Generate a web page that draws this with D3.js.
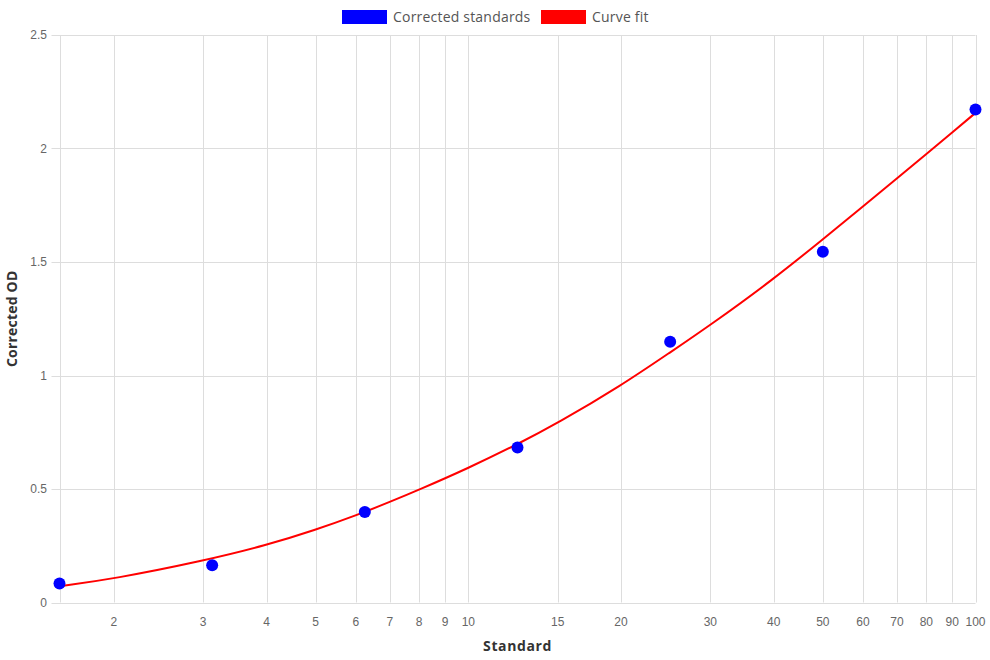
<!DOCTYPE html>
<html><head><meta charset="utf-8">
<script src="https://cdn.jsdelivr.net/npm/d3@7"></script>
<style>
body{margin:0;background:#fff;}
svg{display:block;}
</style></head>
<body><svg id="chart" width="990" height="660"></svg>
<script>
const standardX = [1.5625, 3.125, 6.25, 12.5, 25, 50, 100];
const correctedOD = [0.084, 0.164, 0.399, 0.683, 1.149, 1.545, 2.172];
const fitX = [1.5625, 2, 3, 4, 5, 6, 7, 8, 10, 12.5, 15, 20, 25, 30, 40, 50, 60, 70, 80, 90, 100];
const fitY = [0.072, 0.104, 0.183, 0.252, 0.320, 0.383, 0.443, 0.497, 0.592, 0.697, 0.790, 0.955, 1.102, 1.222, 1.425, 1.600, 1.745, 1.868, 1.975, 2.071, 2.157];
const xTicks = [2,3,4,5,6,7,8,9,10,15,20,30,40,50,60,70,80,90,100];
const yTicks = [0,0.5,1,1.5,2,2.5];
const seriesNames = ["Corrected standards", "Curve fit"];
const seriesColors = ["#0000ff", "#ff0000"];

const svg = d3.select("#chart");
const L = 59.5, R = 975.5, T = 35, B = 602.5;
const x = d3.scaleLog().domain([1.5625, 100]).range([L, R]);
const y = d3.scaleLinear().domain([0, 2.5]).range([B, T]);
const tickFont = "'Liberation Sans', Arial, sans-serif";
const titleFont = "'Open Sans', 'Noto Sans', sans-serif";
const grid = "#dddddd";

// vertical grid
const xg = svg.append("g");
xg.selectAll("line").data([1.5625].concat(xTicks)).join("line")
  .attr("x1", d => Math.round(x(d)) + 0.5).attr("x2", d => Math.round(x(d)) + 0.5)
  .attr("y1", T).attr("y2", B)
  .attr("stroke", grid).attr("stroke-width", 1);
// horizontal grid
const yg = svg.append("g");
yg.selectAll("line").data(yTicks).join("line")
  .attr("x1", L - 8).attr("x2", R)
  .attr("y1", d => Math.round(y(d)) + 0.5).attr("y2", d => Math.round(y(d)) + 0.5)
  .attr("stroke", grid).attr("stroke-width", 1);

// x tick labels
svg.append("g").selectAll("text").data(xTicks).join("text")
  .attr("x", d => x(d)).attr("y", 626)
  .attr("text-anchor", "middle")
  .attr("font-family", tickFont).attr("font-size", 12).attr("fill", "#666")
  .text(d => d);
// y tick labels
svg.append("g").selectAll("text").data(yTicks).join("text")
  .attr("x", 47).attr("y", d => y(d) + 4)
  .attr("text-anchor", "end")
  .attr("font-family", tickFont).attr("font-size", 12).attr("fill", "#666")
  .text(d => d);

// axis titles
svg.append("text").attr("x", (L + R) / 2).attr("y", 651)
  .attr("text-anchor", "middle").attr("font-family", titleFont)
  .attr("font-size", 14).attr("font-weight", "bold").attr("fill", "#333")
  .attr("letter-spacing", 0.6)
  .text("Standard");
svg.append("text").attr("transform", `translate(17,${(T + B) / 2}) rotate(-90)`)
  .attr("text-anchor", "middle").attr("font-family", titleFont)
  .attr("font-size", 14).attr("font-weight", "bold").attr("fill", "#333")
  .attr("letter-spacing", 0.2)
  .text("Corrected OD");

// curve fit
const fitData = fitX.map((d, i) => [d, fitY[i]]);
svg.append("path").datum(fitData)
  .attr("fill", "none").attr("stroke", seriesColors[1]).attr("stroke-width", 2)
  .attr("d", d3.line().x(d => x(d[0])).y(d => y(d[1])).curve(d3.curveBasis));

// points
svg.append("g").selectAll("circle").data(standardX).join("circle")
  .attr("cx", d => x(d)).attr("cy", (d, i) => y(correctedOD[i]))
  .attr("r", 6).attr("fill", seriesColors[0]);

// legend
const legendX = [342, 541];
const lg = svg.append("g");
seriesNames.forEach((n, i) => {
  lg.append("rect").attr("x", legendX[i]).attr("y", 10).attr("width", 45).attr("height", 14)
    .attr("fill", seriesColors[i]);
  lg.append("text").attr("x", legendX[i] + 51).attr("y", 22)
    .attr("font-family", titleFont).attr("font-size", 14).attr("fill", "#555")
    .attr("letter-spacing", 0.2)
    .text(n);
});
</script></body></html>
